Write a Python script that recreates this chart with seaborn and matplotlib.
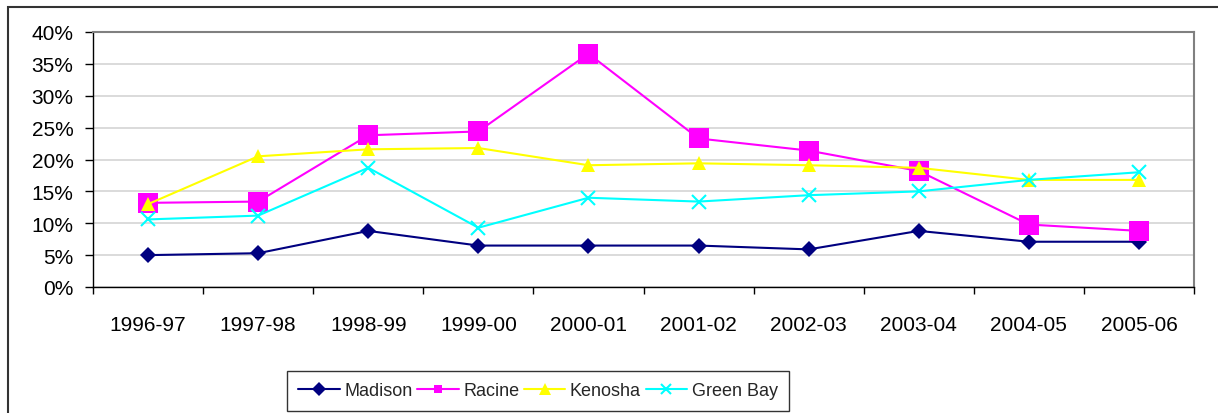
import numpy as np
import pandas as pd
import matplotlib
matplotlib.use('Agg')
import matplotlib.pyplot as plt
import seaborn as sns
from matplotlib.patches import Rectangle
from matplotlib.ticker import FixedLocator, PercentFormatter

# data (percent)
years = ['1996-97', '1997-98', '1998-99', '1999-00', '2000-01',
         '2001-02', '2002-03', '2003-04', '2004-05', '2005-06']
madison = [5.0, 5.3, 8.8, 6.5, 6.5, 6.5, 5.9, 8.8, 7.1, 7.1]
racine = [13.2, 13.4, 23.8, 24.4, 36.6, 23.3, 21.4, 18.2, 9.8, 8.8]
kenosha = [13.0, 20.5, 21.6, 21.8, 19.1, 19.4, 19.1, 18.7, 16.8, 16.8]
green_bay = [10.6, 11.2, 18.7, 9.3, 14.0, 13.4, 14.4, 15.0, 16.8, 18.0]

series = {'Madison': madison, 'Racine': racine,
          'Kenosha': kenosha, 'Green Bay': green_bay}
styles = {
    'Madison': dict(color='#000080', marker='D', markersize=8, legsize=7),
    'Racine': dict(color='#ff00ff', marker='s', markersize=14, legsize=6),
    'Kenosha': dict(color='#ffff00', marker='^', markersize=10, legsize=8),
    'Green Bay': dict(color='#00ffff', marker='x', markersize=10, legsize=7,
                      markeredgewidth=1.5),
}

df = pd.DataFrame({
    'pos': np.tile(np.arange(len(years)), len(series)),
    'value': np.concatenate([series[k] for k in series]),
    'city': np.repeat(list(series.keys()), len(years)),
})

sns.set_theme(style='white')
plt.rcParams['font.family'] = ['Liberation Sans', 'DejaVu Sans']

fig = plt.figure(figsize=(12.18, 4.14), dpi=100)
ax = fig.add_axes([93 / 1218, 1 - 288 / 414, (1194 - 93) / 1218, (288 - 33) / 414])

for city in series:
    st = styles[city]
    sub = df[df['city'] == city]
    sns.lineplot(data=sub, x='pos', y='value', ax=ax, label=city,
                 color=st['color'], marker=st['marker'],
                 markersize=st['markersize'],
                 markeredgewidth=st.get('markeredgewidth', 0),
                 markeredgecolor=st['color'], linewidth=1.5, zorder=3)

ax.set_xlim(-0.5, len(years) - 0.5)
ax.set_ylim(0, 40)
ax.set_yticks(np.arange(0, 41, 5))
ax.yaxis.set_major_formatter(PercentFormatter(decimals=0))
ax.set_xticks(np.arange(len(years)))
ax.set_xticklabels(years)
ax.xaxis.set_minor_locator(FixedLocator(np.arange(-0.5, len(years), 1)))
ax.tick_params(axis='x', which='major', length=0, pad=20, labelsize=15, colors='black')
ax.tick_params(axis='x', which='minor', length=5, width=1, color='black', direction='out', bottom=True)
ax.tick_params(axis='y', which='major', length=6, width=1, color='black', direction='out',
               left=True, labelsize=15, labelcolor='black', pad=8)
ax.set_xlabel('')
ax.set_ylabel('')

ax.grid(axis='y', color='#d4d4d4', linewidth=1.2)
ax.set_axisbelow(True)
for side in ['left', 'bottom']:
    ax.spines[side].set_color('black')
    ax.spines[side].set_linewidth(1)
for side in ['top', 'right']:
    ax.spines[side].set_color('#808080')
    ax.spines[side].set_linewidth(1.5)

leg = ax.legend(loc='center', bbox_to_anchor=(538 / 1218, 1 - 392 / 414),
                bbox_transform=fig.transFigure, ncol=4, frameon=True,
                fancybox=False, edgecolor='black', fontsize=13,
                handlelength=2.3, columnspacing=0.25, handletextpad=0.25,
                borderpad=0.65, borderaxespad=0)
leg.get_frame().set_linewidth(1)
for line, city in zip(leg.get_lines(), series):
    line.set_markersize(styles[city]['legsize'])

# outer chart border (runs off the right and bottom of the image)
fig.patches.append(Rectangle((8 / 1218, -0.1), 1.2, 1 - 8 / 414 + 0.1,
                             transform=fig.transFigure, fill=False,
                             edgecolor='#333333', linewidth=1.5))

fig.savefig('out.png', dpi=100)
